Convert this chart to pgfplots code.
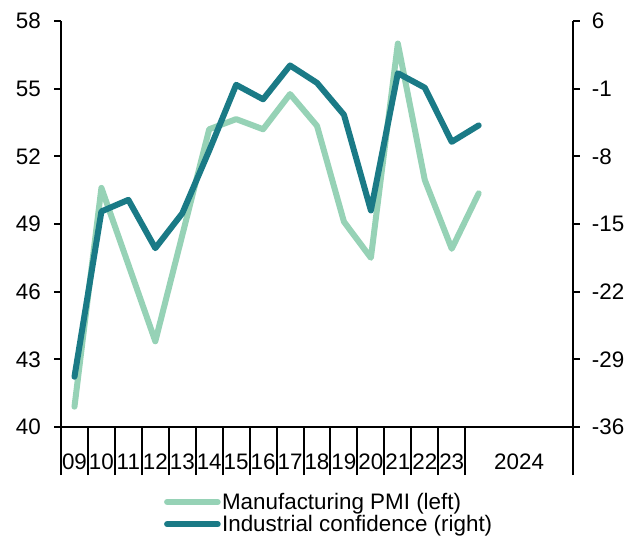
\documentclass[border=0pt]{standalone}
\usepackage{fontspec}
\setmainfont{Liberation Sans}
\usepackage{pgfplots}
\pgfplotsset{compat=1.18}
\definecolor{pmicol}{RGB}{150,210,182}
\definecolor{confcol}{RGB}{26,122,134}
\begin{document}
\begin{tikzpicture}
\useasboundingbox (-45.75pt,-85.5pt) rectangle (432.75pt,320.25pt);
\pgfplotsset{
  every axis/.append style={
    scale only axis, width=384pt, height=304.5pt,
    xmin=0, xmax=19,
    tick align=outside,
    major tick length=5pt,
    axis line style={line width=1.5pt},
    every tick/.style={black, line width=1.5pt},
    tick label style={font=\fontsize{16.8}{20}\selectfont},
    /pgf/number format/assume math mode=true,
  },
}
\begin{axis}[
  ymin=40, ymax=58,
  ytick={40,43,46,49,52,55,58},
  yticklabels={40,43,46,49,52,55,58},
  axis x line*=bottom, axis y line*=left,
  xtick={0.5,1.5,...,14.5,17},
  xticklabels={09,10,11,12,13,14,15,16,17,18,19,20,21,22,23,2024},
  every major x tick/.append style={draw=none},
  minor xtick={0,1,...,15,19},
  minor tick length=36pt,
  xticklabel style={anchor=north, inner sep=0pt, yshift=-15pt},
  yticklabel style={anchor=east, inner sep=0pt, xshift=-10pt},
]
\addplot[pmicol, line width=4.5pt, line cap=round, line join=round] coordinates {
(0.5,40.9) (1.5,50.6) (2.5,47.2) (3.5,43.8) (4.5,48.5) (5.5,53.2) (6.5,53.65) (7.5,53.2)
(8.5,54.76) (9.5,53.35) (10.5,49.1) (11.5,47.5) (12.5,57.0) (13.5,50.95) (14.5,47.9) (15.5,50.36)
};
\end{axis}
\begin{axis}[
  ymin=-36, ymax=6,
  ytick={-36,-29,-22,-15,-8,-1,6},
  yticklabels={-36,-29,-22,-15,-8,-1,6},
  axis x line*=bottom, axis y line*=right,
  xtick=\empty,
  minor xtick={16,17,18},
  minor tick length=10.5pt,
  yticklabel style={anchor=west, inner sep=0pt, xshift=9pt},
  legend style={at={(0.193,-0.15)}, anchor=north west, draw=none, fill=none,
    font=\fontsize{16.8}{20}\selectfont, row sep=0pt,
    nodes={inner xsep=1pt, inner ysep=1.5pt}},
  legend cell align=left,
  legend image code/.code={\draw[#1, line cap=round] (0pt,0pt) -- (38pt,0pt);},
]
\addlegendimage{pmicol, line width=4.5pt}
\addlegendentry{Manufacturing PMI (left)}
\addplot[confcol, line width=4.5pt, line cap=round, line join=round] coordinates {
(0.5,-30.8) (1.5,-13.7) (2.5,-12.5) (3.5,-17.5) (4.5,-13.9) (5.5,-7.4) (6.5,-0.6) (7.5,-2.1)
(8.5,1.4) (9.5,-0.4) (10.5,-3.7) (11.5,-13.6) (12.5,0.6) (13.5,-0.9) (14.5,-6.5) (15.5,-4.8)
};
\addlegendentry{Industrial confidence (right)}
\end{axis}
\end{tikzpicture}
\end{document}
